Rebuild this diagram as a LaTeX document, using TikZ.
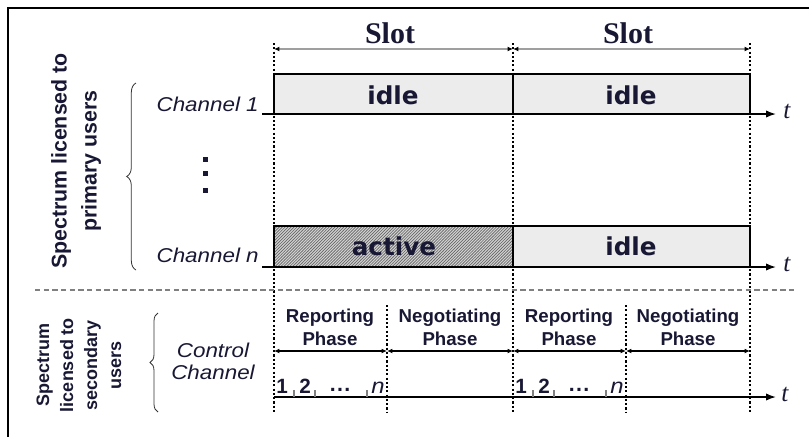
\documentclass[tikz,border=0pt]{standalone}
\usepackage{fontspec}
\setmainfont{Liberation Sans}
\newfontfamily\widesans{DejaVu Sans}
\newfontfamily\romanface{Liberation Serif}
\newfontfamily\chanface[FakeStretch=1.12]{Liberation Sans}
\usetikzlibrary{arrows.meta,patterns,decorations.pathreplacing}

\definecolor{ink}{RGB}{24,24,52}
\definecolor{idlegray}{RGB}{236,236,236}
\definecolor{busygray}{RGB}{212,212,212}

% fine diagonal hatching for the busy interval
\pgfdeclarepatternformonly{finehatch}{\pgfqpoint{-1pt}{-1pt}}{\pgfqpoint{3.2pt}{3.2pt}}{\pgfqpoint{2.2pt}{2.2pt}}{
  \pgfsetlinewidth{0.5pt}
  \pgfpathmoveto{\pgfqpoint{-0.1pt}{-0.1pt}}
  \pgfpathlineto{\pgfqpoint{2.3pt}{2.3pt}}
  \pgfusepath{stroke}
}

\tikzset{
  frameline/.style={line width=1.7pt, line cap=rect},
  boxline/.style={line width=1.1pt},
  guide/.style={line width=0.8pt, dash pattern=on 1.6pt off 1.6pt},
  sepline/.style={gray, line width=0.8pt, dash pattern=on 4pt off 2.5pt},
  slotspan/.style={draw=gray!75, line width=1.1pt,
    {Latex[length=4pt,width=3.6pt,color=black]}-{Latex[length=4pt,width=3.6pt,color=black]}},
  phasespan/.style={draw=black, line width=0.9pt,
    {Latex[length=4pt,width=3.6pt]}-{Latex[length=4pt,width=3.6pt]}},
  timeaxis/.style={line width=1.1pt, -{Latex[length=7.5pt,width=5.5pt]}},
  tickmark/.style={gray, line width=0.8pt},
  slotlbl/.style={text=ink, font=\romanface\bfseries\fontsize{22.5}{26}\selectfont, inner sep=0pt},
  statelbl/.style={text=ink, font=\widesans\bfseries\fontsize{18.5}{22}\selectfont, inner sep=0pt},
  chlbl/.style={text=ink, font=\chanface\itshape\fontsize{15}{16.5}\selectfont, inner sep=0pt},
  phaselbl/.style={text=ink, align=center, font=\bfseries\fontsize{14}{17}\selectfont, inner sep=0pt},
  numlbl/.style={text=ink, font=\bfseries\fontsize{15.5}{18}\selectfont, inner sep=0pt, anchor=base},
  tlbl/.style={text=ink, font=\romanface\itshape\fontsize{19}{20}\selectfont, inner sep=0pt},
  bandlbl/.style={text=ink, rotate=90, align=center, inner sep=0pt},
  bracket/.style={draw=black!80, line width=0.6pt, decorate,
    decoration={brace, amplitude=#1}},
}

\begin{document}
\begin{tikzpicture}[x=0.75pt,y=-0.75pt]
\useasboundingbox (0,0) rectangle (809,436);

% outer frame (top and left edges)
\draw[frameline] (8,436) -- (8,8) -- (809,8);

% slot boundaries
\coordinate (b0) at (274,0);
\coordinate (b1) at (513,0);
\coordinate (b2) at (750,0);
\coordinate (h0) at (387,0);
\coordinate (h1) at (626,0);

% channel 1 : idle | idle
\fill[idlegray] (274,74) rectangle (750,114);
\draw[boxline] (274,114) -- (274,74) -- (750,74) -- (750,114);
\draw[boxline] (513,74) -- (513,114);

% channel n : active | idle
\fill[busygray] (274,226) rectangle (513,267);
\fill[pattern=finehatch, pattern color=gray!80!black] (274,226) rectangle (513,267);
\fill[idlegray] (513,226) rectangle (750,267);
\draw[boxline] (274,267) -- (274,226) -- (750,226) -- (750,267);
\draw[boxline] (513,226) -- (513,267);

% slot and phase guides
\foreach \c in {b0,b1,b2} \draw[guide] (\c |- 0,43) -- (\c |- 0,412);
\foreach \c in {h0,h1} \draw[guide] (\c |- 0,305) -- (\c |- 0,412);

% band separator
\draw[sepline] (35,290) -- (795,290);

% time axes
\coordinate (ax1s) at (262,114); \coordinate (ax1e) at (776,114);
\coordinate (ax2s) at (262,267); \coordinate (ax2e) at (776,267);
\coordinate (ax3s) at (274,397); \coordinate (ax3e) at (776,397);
\draw[timeaxis] (ax1s) -- (ax1e);
\draw[timeaxis] (ax2s) -- (ax2e);
\draw[timeaxis] (ax3s) -- (ax3e);
\node[tlbl] (t1) at (787,111) {t};
\node[tlbl] (t2) at (787,264) {t};
\node[tlbl] (t3) at (785,394) {t};

% slot spans
\draw[slotspan] (b0 |- 0,49) -- (b1 |- 0,49);
\draw[slotspan] (b1 |- 0,49) -- (b2 |- 0,49);
\node[slotlbl] (slotA) at (390,33) {Slot};
\node[slotlbl] (slotB) at (628,33) {Slot};

% channel states
\node[statelbl] (st1a) at (393,95) {idle};
\node[statelbl] (st1b) at (631,95) {idle};
\node[statelbl] (stna) at (394,246) {active};
\node[statelbl] (stnb) at (631,246) {idle};

% channel names
\node[chlbl, anchor=base east] (ch1) at (259,111) {Channel 1};
\node[chlbl, anchor=base east] (chn) at (259,262) {Channel n};
\fill[ink] (203,157) rectangle (208,162);
\fill[ink] (203,171) rectangle (208,176);
\fill[ink] (203,188) rectangle (208,193);
\node[chlbl, align=center] (ctrl) at (213,361) {Control\\Channel};

% band labels with braces
\node[bandlbl, font=\bfseries\fontsize{16}{22.5}\selectfont] (prim) at (76,161)
  {Spectrum licensed to\\primary users};
\node[bandlbl, font=\bfseries\fontsize{13.5}{18}\selectfont] (sec) at (79,365)
  {Spectrum\\licensed to\\secondary\\users};
\draw[bracket=7pt] (136,270) -- (136,83);
\draw[bracket=6pt] (158,412) -- (158,313);

% phase labels and spans
\node[phaselbl] (rep1) at (330,327) {Reporting\\Phase};
\node[phaselbl] (neg1) at (450,327) {Negotiating\\Phase};
\node[phaselbl] (rep2) at (569,327) {Reporting\\Phase};
\node[phaselbl] (neg2) at (688,327) {Negotiating\\Phase};
\draw[phasespan] (b0 |- 0,351) -- (h0 |- 0,351);
\draw[phasespan] (h0 |- 0,351) -- (b1 |- 0,351);
\draw[phasespan] (b1 |- 0,351) -- (h1 |- 0,351);
\draw[phasespan] (h1 |- 0,351) -- (b2 |- 0,351);

% reporting mini-slots
\foreach \s/\id in {274/a,513/b}{
  \node[numlbl] (one\id) at (\s+8,393) {1};
  \node[numlbl] (two\id) at (\s+31,393) {2};
  \node[numlbl, font=\bfseries\fontsize{16}{18}\selectfont] (dots\id) at (\s+66,391) {.\kern1pt.\kern1pt.};
  \node[numlbl, font=\chanface\itshape\fontsize{16}{18}\selectfont] (last\id) at (\s+104,393) {n};
  \foreach \d in {20,41,93} \draw[tickmark] (\s+\d,397) -- (\s+\d,390);
}
\end{tikzpicture}
\end{document}
